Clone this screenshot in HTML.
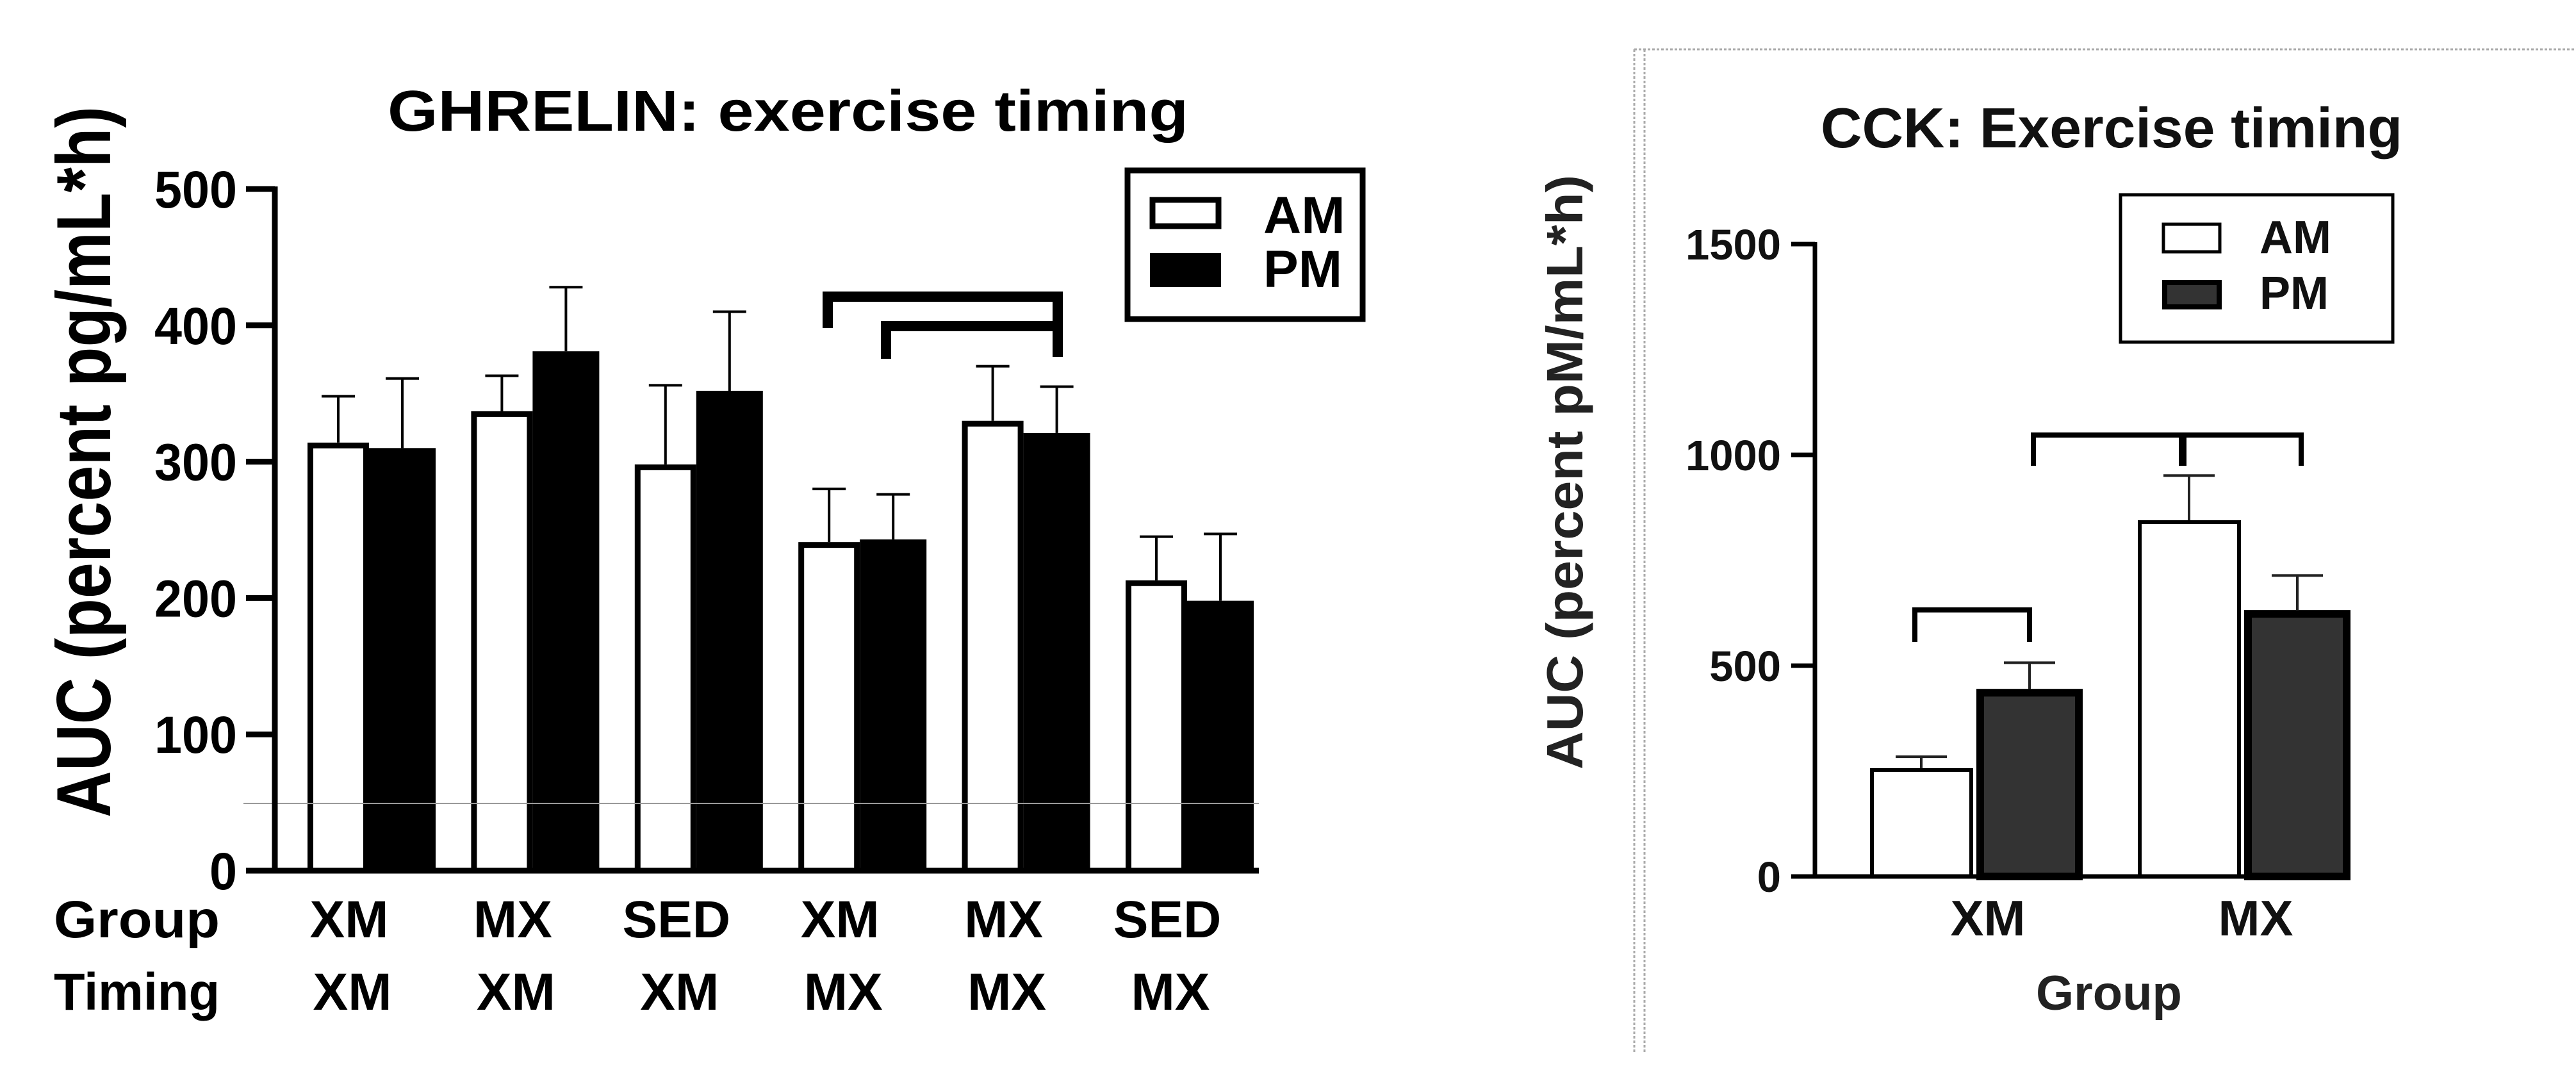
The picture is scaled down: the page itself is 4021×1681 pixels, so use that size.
<!DOCTYPE html>
<html><head><meta charset="utf-8"><style>
html,body{margin:0;padding:0;background:#fff;}
svg{display:block;font-family:"Liberation Sans",Arial,sans-serif;font-weight:bold;}
</style></head><body>
<svg id="fig" width="4021" height="1681" viewBox="0 0 4021 1681" xmlns="http://www.w3.org/2000/svg">
<g id="ghrelin">
  <text x="1230" y="204" font-size="90" text-anchor="middle" textLength="1250" lengthAdjust="spacingAndGlyphs">GHRELIN: exercise timing</text>
  <text transform="translate(172,721) rotate(-90)" font-size="120" text-anchor="middle" textLength="1110" lengthAdjust="spacingAndGlyphs">AUC (percent pg/mL*h)</text>
  <g id="g-ticks"></g>
  <g id="g-bars"></g>
  <line x1="380" y1="1254" x2="1965" y2="1254" stroke="#9a9a9a" stroke-width="2"/>
  <line x1="429" y1="291" x2="429" y2="1363" stroke="#000" stroke-width="9"/>
  <line x1="425" y1="1359" x2="1965" y2="1359" stroke="#000" stroke-width="9"/>
  <path d="M1292,512 V463 H1651 V557" fill="none" stroke="#000" stroke-width="16"/>
  <path d="M1383,560 V509 H1643" fill="none" stroke="#000" stroke-width="16"/>
  <g>
    <rect x="1760" y="266" width="367" height="232" fill="#fff" stroke="#000" stroke-width="9"/>
    <rect x="1799" y="312" width="103" height="41" fill="#fff" stroke="#000" stroke-width="9"/>
    <rect x="1795" y="395" width="111" height="53" fill="#000"/>
    <text x="1972" y="364" font-size="82">AM</text>
    <text x="1972" y="448" font-size="82">PM</text>
  </g>
  <text x="84" y="1463" font-size="82" textLength="259" lengthAdjust="spacingAndGlyphs">Group</text>
  <text x="84" y="1576" font-size="82" textLength="259" lengthAdjust="spacingAndGlyphs">Timing</text>
  <g id="g-xlabels"></g>
</g>
<g id="cck">
  <line x1="2551" y1="77" x2="4021" y2="77" stroke="#aaa" stroke-width="3" stroke-dasharray="4,3"/>
  <line x1="2551" y1="77" x2="2551" y2="1645" stroke="#aaa" stroke-width="3" stroke-dasharray="4,3"/>
  <line x1="2567" y1="77" x2="2567" y2="1645" stroke="#aaa" stroke-width="3" stroke-dasharray="4,3"/>
  <text x="3296" y="230" font-size="88" text-anchor="middle" textLength="908" lengthAdjust="spacingAndGlyphs" fill="#111">CCK: Exercise timing</text>
  <text transform="translate(2470,737) rotate(-90)" font-size="80" text-anchor="middle" textLength="928" lengthAdjust="spacingAndGlyphs" fill="#222">AUC (percent pM/mL*h)</text>
  <g id="c-ticks"></g>
  <g id="c-bars"></g>
  <line x1="2833" y1="378" x2="2833" y2="1371" stroke="#000" stroke-width="7"/>
  <line x1="2796" y1="1368" x2="3669" y2="1368" stroke="#000" stroke-width="7"/>
  <path d="M2989,1002 V952 H3168 V1002" fill="none" stroke="#000" stroke-width="8"/>
  <path d="M3174,727 V679 H3592 V727" fill="none" stroke="#000" stroke-width="8"/>
  <line x1="3407" y1="679" x2="3407" y2="727" stroke="#000" stroke-width="12"/>
  <g>
    <rect x="3310" y="304" width="425" height="230" fill="#fff" stroke="#000" stroke-width="5"/>
    <rect x="3377" y="350" width="88" height="43" fill="#fff" stroke="#000" stroke-width="5"/>
    <rect x="3379" y="441" width="85" height="38" fill="#333" stroke="#000" stroke-width="8"/>
    <text x="3527" y="395" font-size="72" fill="#111">AM</text>
    <text x="3527" y="482" font-size="72" fill="#111">PM</text>
  </g>
  <g id="c-xlabels"></g>
  <text x="3292" y="1576" font-size="76" text-anchor="middle" fill="#222">Group</text>
</g>
</svg>
<script>
// ---- GHRELIN data ----
const gGroups = ["XM","MX","SED","XM","MX","SED"];
const gTiming = ["XM","XM","XM","MX","MX","MX"];
const gAM = [314, 337, 298, 241, 330, 213];
const gPM = [310, 381, 352, 243, 321, 198];
const gAMerr = [34, 26, 58, 39, 40, 32];
const gPMerr = [51, 47, 58, 33, 34, 49];
const gTicks = [0, 100, 200, 300, 400, 500];
// ---- CCK data ----
const cGroups = ["XM","MX"];
const cAM = [257, 845];
const cPM = [445, 632];
const cAMerr = [27, 106];
const cPMerr = [62, 82];
const cTicks = [0, 500, 1000, 1500];

const NS = "http://www.w3.org/2000/svg";
function mk(tag, attrs, parent){
  const e = document.createElementNS(NS, tag);
  for (const k in attrs) e.setAttribute(k, attrs[k]);
  parent.appendChild(e);
  return e;
}
// ghrelin scales
const gy = v => 1359 - v * (1064 / 500);
const gx = i => 480 + i * 255.4;
const gTk = document.getElementById('g-ticks');
gTicks.forEach(t => {
  const l = mk('line', {x1:384, y1:gy(t), x2:429, y2:gy(t), stroke:'#000','stroke-width':9}, gTk);
  
  
  const s = String(t);
  const tx = mk('text', {x:370, y:gy(t)+29, 'font-size':82, 'text-anchor':'end', textLength:43*s.length, lengthAdjust:'spacingAndGlyphs'}, gTk);
  tx.textContent = s;
  
  
});
const gB = document.getElementById('g-bars');
gAM.forEach((v, i) => {
  const x0 = gx(i);
  const cxA = x0 + 48;
  const e1 = mk('path', {d:`M${cxA},${gy(v)} V${gy(v+gAMerr[i])} M${cxA-26},${gy(v+gAMerr[i])} H${cxA+26}`, stroke:'#000','stroke-width':4, fill:'none'}, gB);
  
  
  const b1 = mk('rect', {x:x0+4.5, y:gy(v)+4.5, width:87, height:1359-gy(v)-4.5, fill:'#fff', stroke:'#000','stroke-width':9}, gB);
  
  
  const p = gPM[i];
  const cxP = x0 + 96 + 52;
  const e2 = mk('path', {d:`M${cxP},${gy(p)} V${gy(p+gPMerr[i])} M${cxP-26},${gy(p+gPMerr[i])} H${cxP+26}`, stroke:'#000','stroke-width':4, fill:'none'}, gB);
  
  
  const b2 = mk('rect', {x:x0+96, y:gy(p), width:104, height:1359-gy(p), fill:'#000'}, gB);
  
  
});
const gXL = document.getElementById('g-xlabels');
gGroups.forEach((g, i) => {
  const c = gx(i) + 100 - 35;
  const t1 = mk('text', {x:c, y:1463, 'font-size':82, 'text-anchor':'middle'}, gXL);
  t1.textContent = g;
  
  
  const t2 = mk('text', {x:c+5, y:1576, 'font-size':82, 'text-anchor':'middle'}, gXL);
  t2.textContent = gTiming[i];
  
  
});
// CCK scales
const cy = v => 1368 - v * (987 / 1500);
const cx = i => 2919 + i * 418;
const cTk = document.getElementById('c-ticks');
cTicks.forEach(t => {
  const l = mk('line', {x1:2796, y1:cy(t), x2:2833, y2:cy(t), stroke:'#000','stroke-width':7}, cTk);
  
  
  const tx = mk('text', {x:2780, y:cy(t)+24, 'font-size':67, 'text-anchor':'end', fill:'#111'}, cTk);
  tx.textContent = String(t);
  
  
});
const cB = document.getElementById('c-bars');
cAM.forEach((v, i) => {
  const x0 = cx(i);
  const ca = x0 + 80;
  const e1 = mk('path', {d:`M${ca},${cy(v)} V${cy(v+cAMerr[i])} M${ca-40},${cy(v+cAMerr[i])} H${ca+40}`, stroke:'#222','stroke-width':4, fill:'none'}, cB);
  
  
  const b1 = mk('rect', {x:x0+3, y:cy(v)+3, width:155, height:1368-cy(v)-3, fill:'#fff', stroke:'#000','stroke-width':6}, cB);
  
  
  const p = cPM[i];
  const cp = x0 + 166 + 83;
  const e2 = mk('path', {d:`M${cp},${cy(p)} V${cy(p+cPMerr[i])} M${cp-40},${cy(p+cPMerr[i])} H${cp+40}`, stroke:'#222','stroke-width':4, fill:'none'}, cB);
  
  
  const b2 = mk('rect', {x:x0+166+6, y:cy(p)+6, width:154, height:1368-cy(p)-6, fill:'#333', stroke:'#000','stroke-width':12}, cB);
  
  
});
const cXL = document.getElementById('c-xlabels');
cGroups.forEach((g, i) => {
  const t = mk('text', {x:cx(i)+184, y:1460, 'font-size':78, 'text-anchor':'middle', fill:'#111'}, cXL);
  t.textContent = g;
  
  
});
</script>
</body></html>
